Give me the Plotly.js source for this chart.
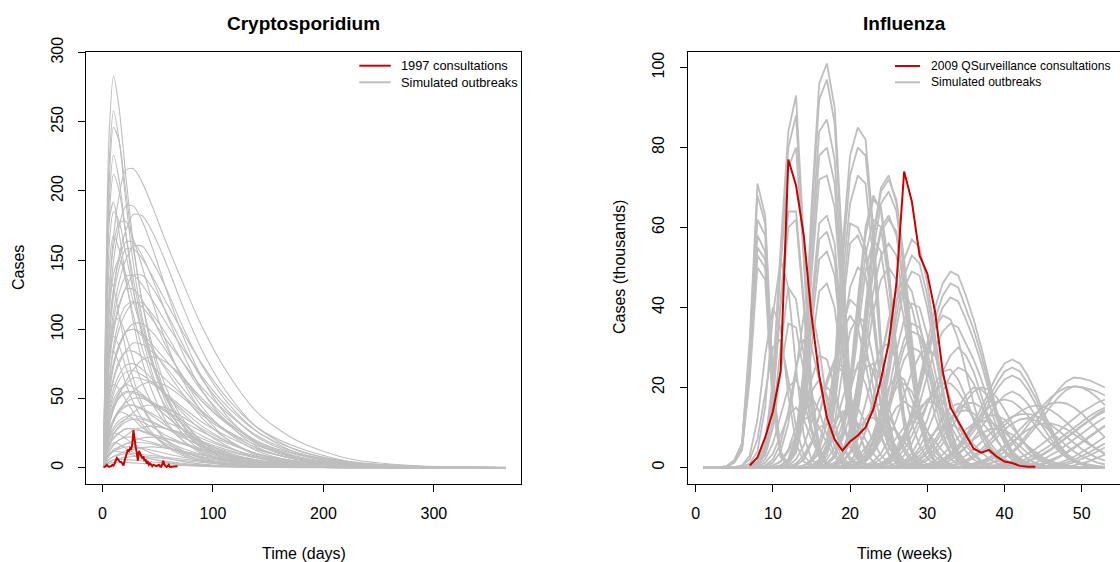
<!DOCTYPE html>
<html>
<head>
<meta charset="utf-8">
<script src="https://cdn.plot.ly/plotly-3.0.1.min.js"></script>
<style>html,body{margin:0;padding:0;background:#fff;}#chart{width:1120px;height:562px;}</style>
</head>
<body>
<div id="chart"></div>
<script>
// ---------------- Cryptosporidium (days) ----------------
const cryptoDays = [1, 3, 6, 10, 15, 21, 28, 36, 46, 58, 72, 90, 112, 140, 175, 220, 280, 365];
const cryptoSimCurves = [
  [0,60,125,167,196,215,216,206,187,162,135,102,70,40,20,7,1.5,0.2],
  [0,127,241,283,260,212,161,119,82,51,31,16,7,2.5,0.8,0.3,0,0],
  [0,116,219,258,237,194,147,108,75,46,28,14,6,2.3,0.8,0.3,0,0],
  [0,100,205,246,236,200,158,120,86,57,36,19,9,3.5,1.2,0.3,0,0],
  [0,102,192,226,208,170,129,95,66,41,25,12,5.4,2,0.7,0.2,0,0],
  [0,90,180,212,200,170,136,104,75,50,32,17,8,3,1,0.3,0,0],
  [0,95,178,192,170,138,105,77,53,33,20,10,4.5,1.7,0.5,0.1,0,0],
  [0,67,115,149,174,189,189,178,157,128,97,65,38,17,6.7,1.9,0.4,0],
  [0,80,160,185,178,155,127,99,72,49,31,17,8,3,1,0.3,0,0],
  [0,55,96,129,153,171,183,182,169,147,118,85,55,29,13,4,0.9,0],
  [0,70,125,160,177,178,165,145,118,90,64,40,21,8.5,3,0.8,0.1,0],
  [0,58,99,129,150,163,163,153,135,111,84,56,33,15,5.8,1.7,0.3,0],
  [0,48,84,113,134,150,160,160,148,129,103,74,48,26,11,3.5,0.8,0],
  [0,60,110,140,150,140,120,98,74,52,34,19,9,3.5,1.2,0.3,0,0],
  [0,42,73,98,116,130,139,139,129,112,90,64,42,22,10,3,0.7,0],
  [0,90,137,130,110,86,64,46,31,19,11,5.5,2.3,0.8,0.2,0,0,0],
  [0,46,78,101,118,129,129,121,107,87,66,44,26,12,4.5,1.3,0.3,0],
  [0,30,63,88,106,117,120,116,106,92,77,58,40,23,11,4,0.9,0.1],
  [0,30,75,104,108,96,78,61,45,31,20,11,5.5,2.2,0.7,0.2,0,0],
  [0,33,58,76,89,98,100,95,85,70,54,36,21,9.5,3.7,1,0.2,0],
  [0,27,47,63,75,84,90,89,83,72,58,41,27,14,6.3,2,0.5,0],
  [0,45,82,84,75,61,47,35,24,15,9,4.5,2,0.7,0.2,0,0,0],
  [0,24,43,57,67,74,75,71,63,52,40,27,16,7,2.7,0.8,0.2,0],
  [0,19,40,53,63,69,70,67,61,53,44,33,23,13,6.5,2.3,0.5,0.1],
  [0,12,24,33,41,48,55,60,62,59,51,38,26,14,6,2,0.4,0],
  [0,25,52,60,57,49,40,31,23,16,10,5.5,2.6,1,0.3,0.1,0,0],
  [0,20,34,44,51,55,54,51,45,37,28,19,11,5,1.9,0.5,0.1,0],
  [0,15,26,35,42,47,50,50,46,40,32,23,15,8,3.5,1.1,0.3,0],
  [0,9,17,24,30,35,40,44,45,43,37,28,19,10,4.5,1.5,0.3,0],
  [0,8,22,34,40,39,35,29,23,17,12,7,3.5,1.5,0.5,0.1,0,0],
  [0,10,22,29,34,37,38,36,33,28,24,18,12,7,3.5,1.2,0.3,0],
  [0,12,21,27,32,35,35,33,29,23,18,12,7,3.2,1.2,0.4,0.1,0],
  [0,6,11,16,20,23,27,29,30,28,25,19,13,7,3,1,0.2,0],
  [0,10,21,25,24,21,17,13.5,10,7,4.5,2.5,1.2,0.5,0.15,0,0,0],
  [0,8,13,17,20,22,22,20,18,15,11,7.5,4.4,2,0.8,0.2,0,0],
  [0,5,9,13,15,17,18,18,17,14,12,8,5.4,2.9,1.3,0.4,0.1,0],
  [0,5,10,12,11.5,10.5,9,7.5,6,4.5,3.2,2,1.1,0.5,0.15,0,0,0],
  [0,3,6,8,10,12,13,14.5,15,14,12,9,6.3,3.5,1.5,0.5,0.1,0],
  [0,3,6,8,9,10,10,9.5,8.6,7.4,6.2,4.7,3.2,1.8,0.9,0.3,0.1,0],
  [0,2,4,5.5,6,5.8,5.4,4.8,4,3.2,2.4,1.6,0.9,0.4,0.15,0,0,0],
  [0,44,92,123,144,158,158,151,137,119,99,75,51,29,15,5,1.1,0.2],
  [0,25,52,73,88,98,100,97,88,77,64,48,33,19,9.5,3.3,0.7,0.1],
  [0,15,31,42,50,54,55,52,47,41,34,26,18,10,5,1.8,0.4,0],
  [0,36,62,84,100,112,119,119,110,96,77,55,36,19,8.4,2.6,0.6,0],
  [0,16,27,35,41,45,45,42,37,30,23,15,9,4,1.6,0.5,0.1,0],
  [0,20,34,46,54,60,65,64,60,52,42,30,19.5,10,4.5,1.4,0.3,0],
  [0,23,49,65,77,84,84,80,73,63,53,40,27,16,7.8,2.7,0.6,0.1],
  [0,38,80,107,126,138,139,132,120,104,87,66,45,26,13,4.5,1,0.1],
  [0,40,80,95,88,73,57,43,31,20,12.5,6.5,3,1.1,0.35,0.1,0,0],
  [0,32,55,74,87,98,104,104,97,84,67,48,32,17,7.4,2.3,0.5,0],
  [0,16,30,42,53,62,71,78,80,76,66,50,34,18,8,2.6,0.6,0],
  [0,10,17,22,25,28,28,26,23,19,14,9.5,5.6,2.5,1,0.3,0,0],
  [0,8,16,21,25,28,28,26.5,24,21,17,13,9,5,2.6,0.9,0.2,0],
  [0,10,18,24.5,29,33,35,35,32,28,22,16,10.5,5.6,2.5,0.8,0.2,0],
  [0,8,15,18,17,14,11,8,6,3.6,2.2,1.1,0.5,0.2,0,0,0,0],
  [0,4.4,8.4,11.7,14.5,17,19.5,21.5,22,21,18,13.6,9.2,5,2.2,0.7,0.2,0],
  [0,5,9,12,13.5,15,15,14,12.3,10,7.7,5,3,1.4,0.5,0.15,0,0],
  [0,12,26,34,40,44,45,42.5,38.5,33,28,21,14.5,8,4,1.4,0.3,0],
  [0,2.4,4.2,5.6,6.6,7.4,8,8,7.4,6.4,5.1,3.7,2.4,1.3,0.6,0.2,0,0],
  [0,1.5,3,3.8,4,3.8,3.4,3,2.5,2,1.5,1,0.6,0.3,0.1,0,0,0],
  [0,22,38,49,56,60,58,53,46,37,28,18,10,4.5,1.7,0.5,0.1,0],
  [0,70,145,168,158,135,110,86,63,43,28,15,7,2.8,0.9,0.2,0,0]
];
// 1997 daily consultations, days 1..68
const crypto1997 = [1,0.5,1,2,1,0.5,1,1,2,1.5,3,5,7,6,5,4,4,3,1.5,5,8,11,13,12,14,13,17,27,20,15,11,5,12,10,9,7,8,5,6,3,4,2,3,2,1,2,1.5,1,1,1.5,2,1,0.5,2,5,2,1,0.5,1,2,0.5,0.5,1,1,0.5,0.5,1,1];

// ---------------- Influenza (weeks, thousands) ----------------
const fluFirstWeek = 1, fluLastWeek = 53;
const fluSimStart = [
  4,4,4,4,4,
  7,7,7,6,7,7,
  11,11,11,11,11,11,
  15,15,15,15,15,
  16,16,16,
  17,17,17,17,17,
  20,20,20,20,
  23,23,23,
  30,30,30,
  37,36,35,
  38,40,42,44,45,47,48,
  33,32,30,
  26,28,22,19,24,14,9,11,6,27,29,18,
  4,4,7,7,11,11,11,15,15,16,17,17,20,20,23,30,37,39,43,46,41,
  8,10,12,13,15,16,18,20,21,23,25,27,30,26,19,24,14,9,28,33,35,6,
  10,12,14,17,19,21,22,24,26,15,11,8,20,27,31,16,13
];
const fluSimValues = [
  [0.3,1.8,6,32,71,63,22,4,0.6],
  [0.3,1.6,5.5,28,62,58,19,3.5,0.5],
  [0.2,1.4,5,26,58,54,17,3,0.4],
  [0.2,1.3,4.6,24,53,50,16,2.8,0.4],
  [0.2,1.2,4.3,22,50,47,15,2.6,0.3],
  [0.3,1.5,6,22,55,84,93,58,20,5,1,0.2],
  [0.3,1.4,5,20,50,75,80,52,18,4.5,1,0.2],
  [0.2,1.2,4.5,17,42,64,64,42,15,4,0.8,0.2],
  [0.2,1,4,15,38,52,45,25,8,2,0.5],
  [0.2,1,3.5,12,30,45,42,28,10,3,0.6],
  [0.1,0.8,3,10,24,36,35,24,9,2.5,0.5],
  [0.3,2,8,25,65,96,101,90,55,20,5,1,0.2],
  [0.3,1.8,7,22,57,84,87,77,47,17,4,1,0.2],
  [0.2,1.5,6,19,48,72,73,65,40,14,3.5,0.8,0.1],
  [0.2,1.3,5,16,41,61,63,56,34,12,3,0.7,0.1],
  [0.2,1.1,4.3,14,35,52,54,48,29,10,2.5,0.6,0.1],
  [0.1,0.9,3.6,12,30,44,46,40,25,9,2.2,0.5,0.1],
  [0.3,1.5,6,25,55,78,85,82,60,32,12,3.5,0.8,0.2],
  [0.2,1.3,5,21,47,66,73,71,52,28,10,3,0.7,0.1],
  [0.2,1.1,4.5,18,42,61,60,55,40,22,8,2.4,0.5,0.1],
  [0.2,1,4,15,32,45,50,48,36,20,8,2.2,0.5,0.1],
  [0.1,0.8,3,11,24,34,38,36,27,15,6,1.7,0.4],
  [0.3,1,3,9,22,42,60,68,64,48,28,12,4,1,0.2],
  [0.3,1,3,9,21,40,58,67,65,50,30,13,4.5,1.2,0.2],
  [0.2,0.8,2.5,7.5,18,34,49,57,54,41,24,10,3.5,0.9,0.2],
  [0.3,1,3.5,10,22,40,58,70,73,66,50,30,14,5,1.5,0.4],
  [0.3,1,3.4,9.5,21,39,57,69,72,67,52,32,15,5.5,1.6,0.4],
  [0.2,0.9,3,8.5,19,34,50,60,63,58,44,27,12,4.5,1.3,0.3],
  [0.2,0.8,2.8,8,18,33,49,59,62,59,46,28,13,4.8,1.4,0.3],
  [0.2,0.7,2.3,6.5,14,26,39,47,50,47,37,23,11,4,1.2,0.3],
  [0.3,1,3,7,15,27,41,52,57,55,46,33,20,10,4,1.5,0.5],
  [0.3,0.9,2.6,6,13,23,35,45,49,48,40,29,18,9,3.5,1.3,0.4],
  [0.2,0.7,2.2,5,11,19,29,37,41,40,33,24,15,7.5,3,1.1,0.3],
  [0.2,0.5,1.6,3.7,8,14,21,27,30,29,24,18,11,5.5,2.2,0.8,0.2],
  [0.5,1,2,4,8,14,22,31,40,46,49,48,43,37,30,22,14,8,4,2,0.8,0.3],
  [0.4,0.9,1.7,3.5,7,12,19,27,35,40,42.5,41.5,37,32,26,19,12,7,3.5,1.7,0.7,0.3],
  [0.3,0.7,1.5,3,6,10,16,23,30,34,36,35,31,27,22,16,10,6,3,1.5,0.6,0.2],
  [0.5,1,2,3.5,5.5,8,11,15,19,23,26,27,26,23,19,14,10,6,3.5,2,1,0.5],
  [0.4,0.8,1.6,3,4.5,6.5,9,12,16,19.5,22,23,22,19.5,16,12,8.5,5,3,1.7,0.9,0.4],
  [0.3,0.7,1.3,2.4,3.6,5.2,7.3,10,13,16,18,19,18,16,13,10,7,4.2,2.5,1.4,0.7,0.3],
  [0.5,1,1.7,2.7,4,6,8.5,11,14,17,19.5,21.5,22.5,22.3,21.8,21,20],
  [0.5,1,1.7,2.7,4,5.8,8,10.5,13,15.5,17.5,19,20,20.3,20,19,17.5,15.5],
  [0.5,1,1.6,2.5,3.8,5.5,7.5,9.5,11.5,13.5,15,16,16.3,16,15,13.5,11.5,9.5,7.5],
  [0.3,0.6,1,1.6,2.4,3.4,4.6,6,7.5,9,10.7,12.3,13.8,15,16.2,17],
  [0.3,0.6,1,1.6,2.4,3.4,4.6,6,7.5,9,10.5,12,13.3,14.5],
  [0.3,0.7,1.2,2,3,4.2,5.6,7,8.5,10,11.3,12.5],
  [0.4,0.8,1.5,2.4,3.5,4.8,6.2,7.6,9,10.3],
  [0.3,0.6,1.1,1.8,2.7,3.8,5,6.3,7.6],
  [0.3,0.7,1.3,2.1,3,4,5],
  [0.2,0.5,1,1.6,2.4,3.2],
  [0.5,1,1.8,3,4.5,6.5,8.5,10.5,12.5,14,15,15.5,15.2,14.3,13,11.3,9.5,7.7,6,4.5,3.3],
  [0.5,1,1.8,3,4.5,6.3,8.2,10,11.5,12.7,13.3,13.4,13,12,10.7,9.2,7.6,6,4.6,3.4,2.4,1.7],
  [0.5,1,2,3.5,5.5,8,10.5,13,15,16.5,17,16.5,15,13,10.5,8,6,4.2,2.8,1.8,1.1,0.7,0.4,0.2],
  [0.5,1.2,2.5,5,9,14,19,23,25,24,21,16,11,7,4,2,1,0.4],
  [0.5,1.2,2.5,4.5,7.5,11,15,18,20,19.5,17.5,14,10,6.5,4,2.2,1.1,0.5],
  [0.5,1.5,3.5,7,12,18,24,28,30,28,23,17,11,6.5,3.5,1.7,0.7,0.3],
  [0.5,1.5,4,9,17,27,36,42,44,40,32,22,13,7,3.5,1.5,0.6],
  [0.4,1,2.3,4.5,8,12,16,19,21,21,19,16,12,8.5,5.5,3.2,1.7,0.8,0.3],
  [0.5,2,6,14,25,34,38,35,26,16,8,3.5,1.2,0.4],
  [0.5,2,6,14,25,32,30,22,12,5,1.7,0.5],
  [0.5,2,6,13,22,28,27,20,11,5,1.8,0.5],
  [0.5,2,7,18,30,32,22,10,3,0.8],
  [0.4,1,2.2,4.3,7,10,12.5,14,14.3,13.5,11.5,9,6.5,4.3,2.6,1.4,0.7,0.3],
  [0.3,0.8,1.7,3.2,5.2,7.5,9.5,11,11.7,11.5,10.5,8.8,7,5.2,3.6,2.3,1.4,0.8,0.4,0.2],
  [0.5,1.5,4,9,16,24,30,31,27,19,11,5.5,2.3,0.8],
  // near-duplicate members of the main clusters
  [0.3,1.7,6,30,68,61,21,4,0.6],
  [0.2,1.3,4.5,24,55,52,17,3,0.4],
  [0.3,1.4,5.5,21,52,80,88,55,19,5,1,0.2],
  [0.2,1.1,4.2,16,40,60,62,40,14,3.5,0.7,0.1],
  [0.3,2,7.5,24,62,92,97,86,52,19,5,1,0.2],
  [0.2,1.6,6.5,20,52,78,80,71,43,15,3.8,0.9,0.1],
  [0.2,1.2,4.7,15,38,57,59,52,31,11,2.8,0.6,0.1],
  [0.3,1.4,5.5,23,51,73,80,78,57,30,11,3.2,0.7,0.2],
  [0.2,1.1,4.2,17,39,56,58,53,39,21,8,2.3,0.5,0.1],
  [0.2,0.9,2.7,8,19,37,53,62,60,46,27,11,3.8,1,0.2],
  [0.3,1,3.3,9.3,20,37,54,66,69,64,49,30,14,5,1.5,0.4],
  [0.2,0.8,2.6,7.3,16,30,44,53,56,53,41,25,12,4.3,1.3,0.3],
  [0.3,0.9,2.8,6.5,14,25,38,48,53,51,43,31,19,9.5,3.8,1.4,0.5],
  [0.2,0.6,1.9,4.3,9.5,16,25,32,36,35,29,21,13,6.5,2.6,1,0.3],
  [0.4,0.9,1.8,3.7,7.5,13,20.5,29,37,43,46,45,40,34.5,28,20.5,13,7.5,3.8,1.8,0.7,0.3],
  [0.4,0.9,1.8,3.2,5,7.2,10,13.5,17.5,21,24,25,24,21,17.5,13,9.2,5.5,3.2,1.8,0.9,0.4],
  [0.4,0.9,1.5,2.4,3.6,5.4,7.6,10,12.6,15.3,17.6,19.4,20.3,20.1,19.6,19,18],
  [0.3,0.6,1,1.6,2.3,3.2,4.3,5.6,7,8.5,10,11.5,12.8,14,15],
  [0.3,0.6,1.1,1.8,2.7,3.8,5,6.4,7.8,9.2,10.5],
  [0.3,0.7,1.2,1.9,2.8,3.8,4.9,6],
  [0.4,0.8,1.4,2.2,3.2,4.4,5.8,7.3,8.8,10.3,11.7,13,14],
  // lower outbreaks
  [0.5,2,6,13,20,22,17,9,3.5,1,0.3],
  [0.4,1.5,4.5,10,16,18,14,8,3.5,1.2,0.3],
  [0.5,2,5.5,11,17,20,18,12,6,2.3,0.7,0.2],
  [0.5,2,6,13,22,27,25,18,10,4,1.3,0.3],
  [0.5,1.5,4,8,13,16,15,11,6.5,3,1.1,0.3],
  [0.5,2,5,11,19,26,28,24,17,10,4.5,1.6,0.5],
  [0.4,1.3,3.5,7,12,15,16,13,9,5,2.2,0.8,0.2],
  [0.4,1.2,3,6.5,11,16,20,21,19,14,9,5,2.2,0.8,0.2],
  [0.5,1.5,4,8.5,15,23,30,34,33,27,19,11,5.5,2.3,0.8,0.2],
  [0.4,1,2.5,5,8.5,12,15,16.5,16,14,10.5,7,4,2,0.9,0.3],
  [0.4,1.2,3,6,10.5,16,21,24,24.5,22,17.5,12,7.5,4,1.9,0.8,0.3],
  [0.3,0.8,1.8,3.5,6,9,12,14.5,16,16.2,15,12.5,9.5,6.5,4,2.3,1.2,0.5,0.2],
  [0.3,0.8,1.7,3,5,7.5,10,12,13,13,12,10,7.5,5.2,3.3,2,1.1,0.5,0.2],
  [0.5,1.5,3.5,7,12,18,24,28,30,28,24,18,12,7,3.8,1.8,0.8,0.3],
  [0.5,1.5,4,9,17,27,37,44,47,44,36,26,16,8.5,4,1.6,0.6],
  [0.5,1.5,3.5,7,13,21,29,35,38,37,32,24,16,9.5,5,2.3,0.9,0.3],
  [0.5,1.5,4.5,11,22,35,42,40,31,20,11,5,2,0.6],
  [0.3,1.2,4,11,24,38,40,30,16,7,2.5,0.7],
  [0.3,0.8,1.8,3.5,6,9.5,13,16.5,19,20,19.5,17.5,14.5,11,7.5,4.8,2.8,1.5,0.7,0.3],
  [0.3,0.7,1.4,2.4,3.8,5.5,7.5,9.5,11,12,12.3,11.8,10.6,9,7.2,5.5,4,2.8,1.9,1.2,0.8],
  [0.3,0.7,1.3,2.2,3.4,4.8,6.4,8,9.4,10.5,11,11,10.5,9.6,8.4,7,5.7,4.5,3.5],
  [0.5,3,12,28,40,35,18,6,1.5,0.3],
  // smallest outbreaks
  [0.5,1.5,4,8,12,13,10,6,2.5,0.8,0.2],
  [0.3,1,3,6.5,10,11,9,5.5,2.5,0.8],
  [0.5,1.5,3.5,7,11,14,14,11,7,3.5,1.3,0.4],
  [0.4,1.2,3,6,9.5,12,12.5,10.5,7,4,1.8,0.6],
  [0.3,1,2.5,5,8,10,10.5,9,6.5,4,2,0.8,0.3],
  [0.5,1.5,3.5,7,11.5,15,16.5,15,11.5,7.5,4,1.8,0.7],
  [0.3,0.9,2.2,4.5,7.5,10,11.5,11,9,6.5,4,2.1,0.9,0.3],
  [0.5,1.3,3,6,10,14,17,18,16.5,13,9,5.5,3,1.4,0.5],
  [0.3,0.8,2,4,6.5,9,10.5,10.8,9.8,8,5.8,3.8,2.2,1.1,0.5],
  [0.5,2,5,10,17,23,25,21,14,7.5,3.2,1.1,0.3],
  [0.5,2,5.5,12,19,22,18,11,5,1.8,0.5],
  [0.3,1.2,3.5,8,13,15,12,7,3,1,0.3],
  [0.5,1.5,4,8.5,14.5,20,23,22,17,11,6,2.8,1,0.3],
  [0.5,1.3,3,5.5,9,12.5,15,16,15,12.5,9.5,6.5,4,2.2,1,0.4],
  [0.3,0.8,1.8,3.2,5,7,8.5,9.5,9.8,9.3,8.2,6.8,5.2,3.8,2.5,1.6,0.9,0.5,0.2],
  [0.3,1,3,7,13,20,25,26,22,15,8.5,4,1.5,0.5],
  [0.5,2,6,13,21,26,24,17,9.5,4,1.4,0.4]
];
// 2009 QSurveillance weekly consultations (thousands), weeks 7..44
const flu2009Start = 7;
const flu2009 = [0.5,2.5,7.5,14,24,77,70.5,58,38,23,12.5,7,4.2,6.5,8,10,14.5,22,31,46,74,66.5,53,48.5,39,24,15,11.5,8,4.7,3.7,4.4,2.7,1.5,1.1,0.4,0.2,0.2];

// ---------------- build traces ----------------
const GREY = '#bebebe', RED = '#cd0000';
const traces = [];
cryptoSimCurves.forEach(c => {
  traces.push({x: cryptoDays, y: c, xaxis: 'x', yaxis: 'y', type: 'scatter', mode: 'lines',
    line: {color: GREY, width: 1.1, shape: 'spline', smoothing: 0.8}, hoverinfo: 'skip'});
});
const cryptoRedDays = crypto1997.map((_, i) => i + 1);
traces.push({x: cryptoRedDays, y: crypto1997, xaxis: 'x', yaxis: 'y', type: 'scatter', mode: 'lines',
  line: {color: RED, width: 2}, hoverinfo: 'skip'});

const fluWeeks = [];
for (let w = fluFirstWeek; w <= fluLastWeek; w++) fluWeeks.push(w);
fluSimValues.forEach((vals, k) => {
  const s = fluSimStart[k];
  const y = fluWeeks.map(w => (w >= s && w - s < vals.length) ? vals[w - s] : 0);
  traces.push({x: fluWeeks, y: y, xaxis: 'x2', yaxis: 'y2', type: 'scatter', mode: 'lines',
    line: {color: GREY, width: 1.8}, hoverinfo: 'skip'});
});
const flu2009Weeks = flu2009.map((_, i) => flu2009Start + i);
traces.push({x: flu2009Weeks, y: flu2009, xaxis: 'x2', yaxis: 'y2', type: 'scatter', mode: 'lines',
  line: {color: RED, width: 2}, hoverinfo: 'skip'});

// ---------------- layout ----------------
const W = 1120, H = 562;
const FONT = 'Liberation Sans, Arial, Helvetica, sans-serif';
const px = v => v / W, py = v => 1 - v / H;
const axisCommon = {showgrid: false, zeroline: false, showline: true, linecolor: '#000', linewidth: 1,
  ticks: 'outside', ticklen: 7, tickwidth: 1, tickcolor: '#000',
  tickfont: {family: FONT, size: 16, color: '#000'}, fixedrange: true};
const xStand = 8, yStand = 9;

const layout = {
  width: W, height: H, margin: {l: 0, r: 0, t: 0, b: 0}, showlegend: false,
  paper_bgcolor: '#fff', plot_bgcolor: '#fff',
  xaxis: Object.assign({}, axisCommon, {domain: [px(86.4), px(520.7)], range: [-14.56, 378.56],
    tickvals: [0, 100, 200, 300], mirror: true, anchor: 'y', ticklabelstandoff: xStand}),
  yaxis: Object.assign({}, axisCommon, {domain: [py(483.6), py(51.8)], range: [-11.56, 300.56],
    tickvals: [0, 50, 100, 150, 200, 250, 300], tickangle: -90, mirror: true, anchor: 'x', ticklabelstandoff: yStand}),
  xaxis2: Object.assign({}, axisCommon, {domain: [px(687.5), 1], range: [-1.06, 54.96],
    tickvals: [0, 10, 20, 30, 40, 50], mirror: true, anchor: 'y2', ticklabelstandoff: xStand}),
  yaxis2: Object.assign({}, axisCommon, {domain: [py(483.6), py(51.8)], range: [-4.03, 103.93],
    tickvals: [0, 20, 40, 60, 80, 100], tickangle: -90, mirror: false, anchor: 'x2', ticklabelstandoff: yStand}),
  shapes: [
    {type: 'line', xref: 'paper', yref: 'paper', x0: px(359.3), x1: px(390.7), y0: py(65.7), y1: py(65.7), line: {color: RED, width: 2}},
    {type: 'line', xref: 'paper', yref: 'paper', x0: px(359.3), x1: px(390.7), y0: py(82.3), y1: py(82.3), line: {color: GREY, width: 2}},
    {type: 'line', xref: 'paper', yref: 'paper', x0: px(895), x1: px(920), y0: py(66), y1: py(66), line: {color: RED, width: 2}},
    {type: 'line', xref: 'paper', yref: 'paper', x0: px(895), x1: px(920), y0: py(82.3), y1: py(82.3), line: {color: GREY, width: 2}}
  ],
  annotations: [
    {text: '<b>Cryptosporidium</b>', xref: 'paper', yref: 'paper', x: px(303.5), y: py(23), xanchor: 'center', yanchor: 'middle', showarrow: false, font: {family: FONT, size: 19, color: '#000'}},
    {text: '<b>Influenza</b>', xref: 'paper', yref: 'paper', x: px(904.3), y: py(23), xanchor: 'center', yanchor: 'middle', showarrow: false, font: {family: FONT, size: 19, color: '#000'}},
    {text: 'Time (days)', xref: 'paper', yref: 'paper', x: px(303.5), y: py(553), xanchor: 'center', yanchor: 'middle', showarrow: false, font: {family: FONT, size: 16, color: '#000'}},
    {text: 'Time (weeks)', xref: 'paper', yref: 'paper', x: px(904.3), y: py(553), xanchor: 'center', yanchor: 'middle', showarrow: false, font: {family: FONT, size: 16, color: '#000'}},
    {text: 'Cases', xref: 'paper', yref: 'paper', x: px(18), y: py(268), xanchor: 'center', yanchor: 'middle', textangle: -90, showarrow: false, font: {family: FONT, size: 16, color: '#000'}},
    {text: 'Cases (thousands)', xref: 'paper', yref: 'paper', x: px(619), y: py(267), xanchor: 'center', yanchor: 'middle', textangle: -90, showarrow: false, font: {family: FONT, size: 16, color: '#000'}},
    {text: '1997 consultations', xref: 'paper', yref: 'paper', x: px(399.3), y: py(65.7), xanchor: 'left', yanchor: 'middle', showarrow: false, font: {family: FONT, size: 12.8, color: '#000'}},
    {text: 'Simulated outbreaks', xref: 'paper', yref: 'paper', x: px(399.3), y: py(82.3), xanchor: 'left', yanchor: 'middle', showarrow: false, font: {family: FONT, size: 12.8, color: '#000'}},
    {text: '2009 QSurveillance consultations', xref: 'paper', yref: 'paper', x: px(929.3), y: py(66), xanchor: 'left', yanchor: 'middle', showarrow: false, font: {family: FONT, size: 12.1, color: '#000'}},
    {text: 'Simulated outbreaks', xref: 'paper', yref: 'paper', x: px(929.3), y: py(82.3), xanchor: 'left', yanchor: 'middle', showarrow: false, font: {family: FONT, size: 12.1, color: '#000'}}
  ]
};

Plotly.newPlot('chart', traces, layout, {displayModeBar: false, staticPlot: true});
</script>
</body>
</html>
